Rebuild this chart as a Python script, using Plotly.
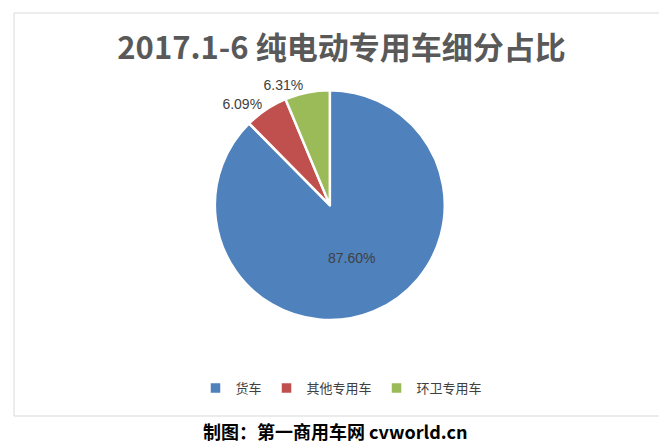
import plotly.graph_objects as go

categories = ["货车", "其他专用车", "环卫专用车"]
values = [87.60, 6.09, 6.31]
colors = ["#4F81BD", "#C0504D", "#9BBB59"]
W, H = 667, 443

fig = go.Figure(go.Pie(
    labels=categories, values=values, sort=False, direction="clockwise", rotation=0,
    marker=dict(colors=colors, line=dict(color="white", width=2.5)),
    texttemplate="%{value:.2f}%", textposition=["inside", "outside", "outside"],
    textfont=dict(family="Liberation Sans, Arial", size=14, color="#404040"),
    insidetextfont=dict(color="#404040"), insidetextorientation="horizontal",
    domain=dict(x=[0.294, 0.671], y=[0.2955, 0.8145]),
))
fig.update_layout(
    width=W, height=H, margin=dict(l=0, r=0, t=0, b=0),
    paper_bgcolor="white", plot_bgcolor="white",
    title=dict(text="<b>2017.1-6 纯电动专用车细分占比</b>", x=0.5, xanchor="center",
               y=1 - 40 / H, yanchor="middle",
               font=dict(family="Noto Sans CJK SC", size=31, color="#595959")),
    legend=dict(orientation="h", x=0.5, xanchor="center", y=1 - 380 / H, yanchor="middle",
                font=dict(family="Noto Sans CJK SC", size=13, color="#404040")),
    shapes=[dict(type="rect", xref="paper", yref="paper", x0=6 / W, x1=657 / W,
                 y0=1 - 408 / H, y1=1 - 5 / H, line=dict(color="#D9D9D9", width=1))],
    annotations=[dict(text="<b>制图：第一商用车网 cvworld.cn</b>", x=0.49, xref="paper",
                      y=1 - 423 / H, yref="paper", showarrow=False, yanchor="middle",
                      font=dict(family="Noto Sans CJK SC", size=18, color="black"))],
)
fig.write_html("out.html")
